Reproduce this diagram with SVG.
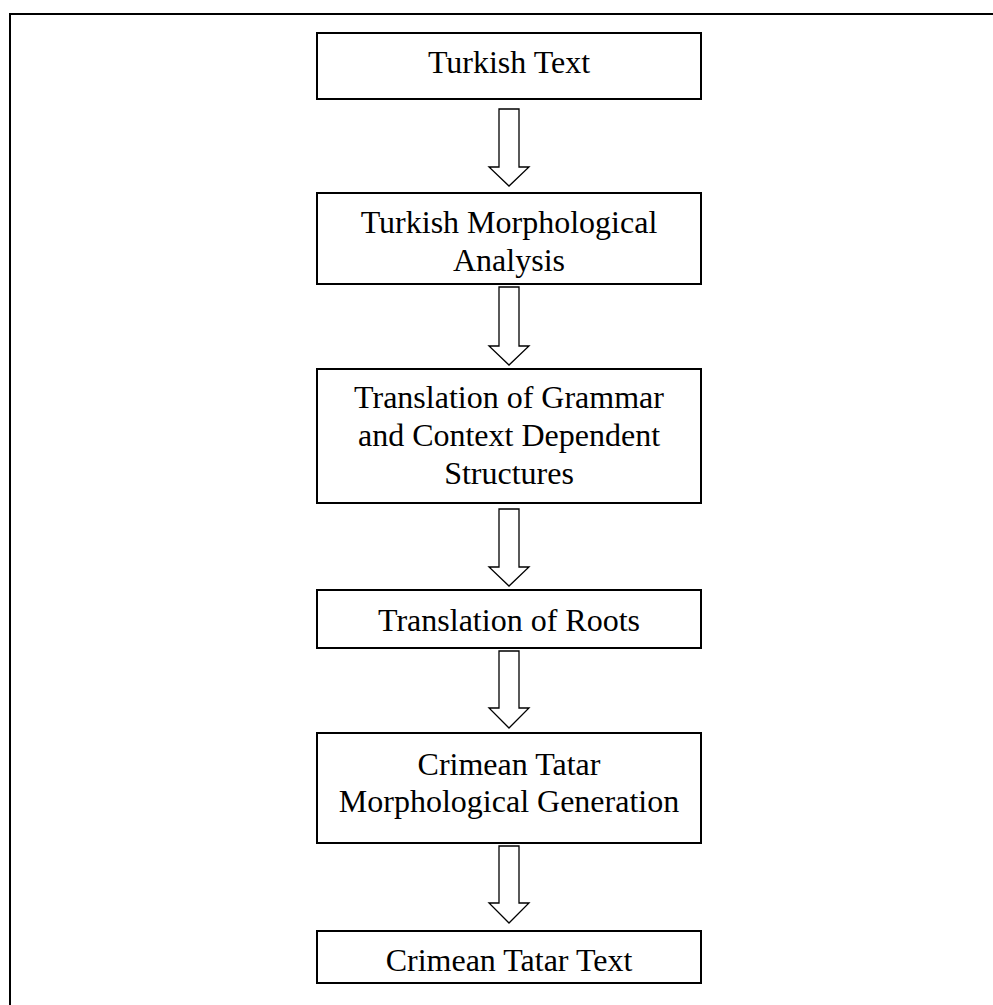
<svg xmlns="http://www.w3.org/2000/svg" width="993" height="1005" viewBox="0 0 993 1005">
<style>
.box{fill:#fff;stroke:#000;stroke-width:2}
.arr{fill:#fff;stroke:#000;stroke-width:1.3;stroke-linejoin:miter}
.lbl{font-family:"Liberation Serif","Times New Roman",serif;font-size:32px;fill:#000;text-anchor:middle}
</style>
<rect width="993" height="1005" fill="#fff"/>
<path d="M10,1005 V14 H993" fill="none" stroke="#000" stroke-width="2"/>
<g id="connectors">
<path class="arr" d="M499,109 H519 V167 H529 L509,186 L489,167 H499 Z"/>
<path class="arr" d="M499,287 H519 V346 H529 L509,365 L489,346 H499 Z"/>
<path class="arr" d="M499,509 H519 V567 H529 L509,586 L489,567 H499 Z"/>
<path class="arr" d="M499,651 H519 V708 H529 L509,728 L489,708 H499 Z"/>
<path class="arr" d="M499,846 H519 V903 H529 L509,923 L489,903 H499 Z"/>
</g>
<g id="n1"><rect class="box" x="317" y="33" width="384" height="66"/><text class="lbl" x="509" y="73">Turkish Text</text></g>
<g id="n2"><rect class="box" x="317" y="193" width="384" height="91"/><text class="lbl" x="509" y="233">Turkish Morphological</text><text class="lbl" x="509" y="271">Analysis</text></g>
<g id="n3"><rect class="box" x="317" y="369" width="384" height="134"/><text class="lbl" x="509" y="408">Translation of Grammar</text><text class="lbl" x="509" y="446">and Context Dependent</text><text class="lbl" x="509" y="484">Structures</text></g>
<g id="n4"><rect class="box" x="317" y="590" width="384" height="58"/><text class="lbl" x="509" y="631">Translation of Roots</text></g>
<g id="n5"><rect class="box" x="317" y="733" width="384" height="110"/><text class="lbl" x="509" y="775">Crimean Tatar</text><text class="lbl" x="509" y="812">Morphological Generation</text></g>
<g id="n6"><rect class="box" x="317" y="931" width="384" height="52"/><text class="lbl" x="509" y="971">Crimean Tatar Text</text></g>
</svg>
